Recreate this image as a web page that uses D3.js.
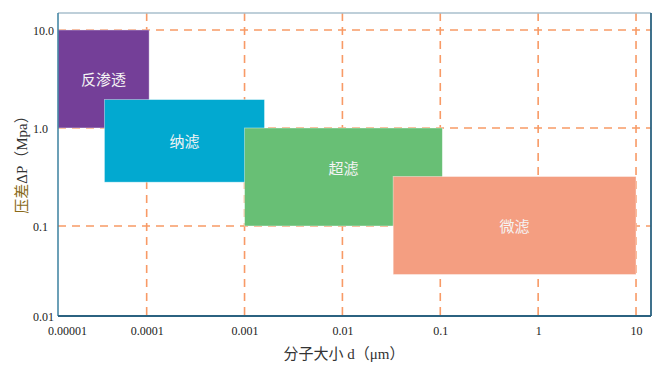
<!DOCTYPE html>
<html>
<head>
<meta charset="utf-8">
<script src="https://cdn.jsdelivr.net/npm/d3@7"></script>
<style>
  body { margin: 0; background: #fff; }
  svg { display: block; }
</style>
</head>
<body>
<svg id="chart" width="666" height="371"></svg>
<script>
// 分离过程
var processes = ["反渗透", "纳滤", "超滤", "微滤"]
var dMin = [0.00001, 0.000037, 0.001, 0.033]     // μm
var dMax = [0.000106, 0.0016, 0.105, 10]
var pMin = [1, 0.28, 0.1, 0.032]                 // Mpa
var pMax = [10, 1.95, 1, 0.32]
var colors = ["#743f98", "#02a9d0", "#68bf75", "#f49e81"]

// 刻度
var xTicks = [0.00001, 0.0001, 0.001, 0.01, 0.1, 1, 10]
var xTickLabels = ["0.00001", "0.0001", "0.001", "0.01", "0.1", "1", "10"]
var yTicks = [0.01, 0.1, 1, 10]
var yTickLabels = ["0.01", "0.1", "1.0", "10.0"]

// 注意: 不能用 top 作变量名 (window.top)
var plotL = 58, plotR = 651, plotT = 13, plotB = 316
var svg = d3.select("#chart")

var x = d3.scaleLog()
          .domain([Math.pow(10, -4.906), Math.pow(10, 1.153)])
          .range([plotL, plotR])
          .clamp(true)

var y = d3.scaleLog()
          .domain([Math.pow(10, -1.918), Math.pow(10, 1.173)])
          .range([plotB, plotT])
          .clamp(true)

var gridColor = "#f89a66"

// 网格线
var grid = svg.append("g")
grid.selectAll(".vgrid")
    .data(xTicks.slice(1))
    .enter().append("line")
    .attr("x1", d => x(d)).attr("x2", d => x(d))
    .attr("y1", plotT).attr("y2", plotB)
    .attr("stroke", gridColor)
    .attr("stroke-width", 1.6)
    .attr("stroke-dasharray", "8,6")

grid.selectAll(".hgrid")
    .data(yTicks.slice(1))
    .enter().append("line")
    .attr("x1", plotL).attr("x2", plotR)
    .attr("y1", d => y(d)).attr("y2", d => y(d))
    .attr("stroke", gridColor)
    .attr("stroke-width", 1.6)
    .attr("stroke-dasharray", "8,6")

// 矩形区域
var boxes = svg.append("g")
boxes.selectAll("rect")
     .data(processes)
     .enter().append("rect")
     .attr("x", (d, i) => x(dMin[i]))
     .attr("y", (d, i) => y(pMax[i]))
     .attr("width", (d, i) => x(dMax[i]) - x(dMin[i]))
     .attr("height", (d, i) => y(pMin[i]) - y(pMax[i]))
     .attr("fill", (d, i) => colors[i])
     .attr("stroke", "rgba(255,255,255,0.5)")
     .attr("stroke-width", 0.8)

boxes.selectAll("text")
     .data(processes)
     .enter().append("text")
     .attr("x", (d, i) => (x(dMin[i]) + x(dMax[i])) / 2)
     .attr("y", (d, i) => (y(pMin[i]) + y(pMax[i])) / 2 - (i == 2 ? 9 : 0))
     .attr("text-anchor", "middle")
     .attr("dominant-baseline", "central")
     .attr("font-family", "'Noto Sans CJK SC', sans-serif")
     .attr("font-size", 15)
     .attr("fill", "#f4f4f4")
     .text(d => d)

// 边框
svg.append("line").attr("x1", plotL).attr("x2", plotR).attr("y1", plotT).attr("y2", plotT)
   .attr("stroke", "#a9bfcc").attr("stroke-width", 1.5)
svg.append("line").attr("x1", plotL).attr("x2", plotL).attr("y1", plotT).attr("y2", plotB)
   .attr("stroke", "#3b809f").attr("stroke-width", 1.5)
svg.append("line").attr("x1", plotL).attr("x2", plotR).attr("y1", plotB).attr("y2", plotB)
   .attr("stroke", "#2b6280").attr("stroke-width", 1.8)
svg.append("line").attr("x1", plotR).attr("x2", plotR).attr("y1", plotT).attr("y2", plotB)
   .attr("stroke", "#2b6280").attr("stroke-width", 1.8)

// 坐标轴标签
var serif = "'Liberation Serif', 'Times New Roman', serif"

var xAxis = d3.axisBottom(x)
              .tickValues(xTicks)
              .tickSize(0)
              .tickFormat((d, i) => xTickLabels[i])
var gx = svg.append("g")
            .attr("transform", "translate(0," + plotB + ")")
            .call(xAxis)
gx.select(".domain").remove()
gx.selectAll("text")
  .attr("y", 0).attr("dy", 0)
  .attr("transform", "translate(0,19)")
  .attr("dx", (d, i) => i == 0 ? 9 : 0)
  .attr("font-family", serif)
  .attr("font-size", 12)
  .attr("fill", "#222")

var yAxis = d3.axisLeft(y)
              .tickValues(yTicks)
              .tickSize(0)
              .tickFormat((d, i) => yTickLabels[i])
var gy = svg.append("g")
            .attr("transform", "translate(" + plotL + ",0)")
            .call(yAxis)
gy.select(".domain").remove()
gy.selectAll("text")
  .attr("x", 33 - plotL)
  .attr("dy", "0.35em")
  .attr("text-anchor", "start")
  .attr("font-family", serif)
  .attr("font-size", 12)
  .attr("fill", "#222")

// 轴标题
svg.append("text")
   .attr("x", 344)
   .attr("y", 359)
   .attr("text-anchor", "middle")
   .attr("font-family", "'Liberation Serif', 'Noto Sans CJK SC', serif")
   .attr("font-size", 15)
   .attr("fill", "#333")
   .text("分子大小 d（μm）")

var yTitle = svg.append("text")
                .attr("transform", "translate(27,161) rotate(-90)")
                .attr("text-anchor", "middle")
                .attr("font-family", "'Liberation Serif', 'Noto Sans CJK SC', serif")
                .attr("font-size", 15)
                .attr("fill", "#333")
yTitle.append("tspan").attr("fill", "#8a6a18").text("压差")
yTitle.append("tspan").text("ΔP（Mpa）")
</script>
</body>
</html>
